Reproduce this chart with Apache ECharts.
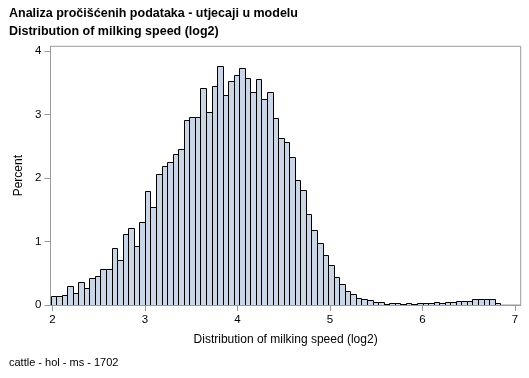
<!DOCTYPE html>
<html>
<head>
<meta charset="utf-8">
<script src="https://cdn.jsdelivr.net/npm/echarts@6/dist/echarts.min.js"></script>
<style>html,body{margin:0;padding:0;background:#fff;}#c{width:529px;height:378px;}</style>
</head>
<body>
<div id="c"></div>
<script>
var titleLine1 = 'Analiza pročišćenih podataka - utjecaji u modelu';
var titleLine2 = 'Distribution of milking speed (log2)';
var footnote = 'cattle - hol - ms - 1702';
var xAxisTitle = 'Distribution of milking speed (log2)';
var yAxisTitle = 'Percent';
var xTicks = [2, 3, 4, 5, 6, 7];
var yTicks = [0, 1, 2, 3, 4];
var binWidth = 0.06;
var binMidpoints = [2.01,2.07,2.13,2.19,2.25,2.31,2.37,2.43,2.49,2.55,2.61,2.67,2.73,2.79,2.85,2.91,2.97,3.03,3.09,3.15,3.21,3.27,3.33,3.39,3.45,3.51,3.57,3.63,3.69,3.75,3.81,3.87,3.93,3.99,4.05,4.11,4.17,4.23,4.29,4.35,4.41,4.47,4.53,4.59,4.65,4.71,4.77,4.83,4.89,4.95,5.01,5.07,5.13,5.19,5.25,5.31,5.37,5.43,5.49,5.55,5.61,5.67,5.73,5.79,5.85,5.91,5.97,6.03,6.09,6.15,6.21,6.27,6.33,6.39,6.45,6.51,6.57,6.63,6.69,6.75,6.81];
var percents = [0.147,0.147,0.162,0.304,0.194,0.367,0.262,0.43,0.461,0.571,0.571,0.90,0.713,1.127,1.216,0.933,1.31,1.80,1.546,2.065,2.19,2.254,2.38,2.463,2.914,2.961,2.961,3.417,3.04,3.449,3.763,3.307,3.527,3.622,3.732,3.574,3.354,3.559,3.244,3.354,2.946,2.631,2.568,2.332,1.971,1.813,1.436,1.184,0.985,0.791,0.634,0.445,0.335,0.228,0.178,0.115,0.10,0.084,0.052,0.052,0.021,0.037,0.037,0.021,0.037,0.021,0.037,0.037,0.037,0.052,0.037,0.052,0.052,0.068,0.068,0.068,0.089,0.089,0.089,0.089,0.037];

var data = binMidpoints.map(function (m, i) { return [m, percents[i]]; });
var FONT = '"Liberation Sans", Arial, sans-serif';
var AXIS_COLOR = '#9a9a9a';

var chart = echarts.init(document.getElementById('c'), null, {renderer: 'canvas'});
chart.setOption({
  animation: false,
  backgroundColor: '#ffffff',
  title: [
    {text: titleLine1, left: 9, top: 7, padding: 0,
     textStyle: {fontFamily: FONT, fontSize: 12.5, fontWeight: 'bold', color: '#000'}},
    {text: titleLine2, left: 9, top: 25, padding: 0,
     textStyle: {fontFamily: FONT, fontSize: 12.5, fontWeight: 'bold', color: '#000'}},
    {text: footnote, left: 9, top: 357, padding: 0,
     textStyle: {fontFamily: FONT, fontSize: 11, fontWeight: 'normal', color: '#000'}}
  ],
  grid: {left: 50.5, right: 8.3, top: 46.3, bottom: 73, show: true,
         borderColor: AXIS_COLOR, borderWidth: 1, backgroundColor: 'transparent'},
  xAxis: {
    type: 'value', min: 1.98, max: 7.061,
    name: xAxisTitle, nameLocation: 'middle', nameGap: 29,
    nameTextStyle: {fontFamily: FONT, fontSize: 12, color: '#000'},
    axisLine: {show: true, lineStyle: {color: AXIS_COLOR}},
    axisTick: {show: true, length: 6, lineStyle: {color: AXIS_COLOR}, customValues: xTicks},
    axisLabel: {fontFamily: FONT, fontSize: 11.5, color: '#000', margin: 9, customValues: xTicks,
                showMinLabel: true, showMaxLabel: true},
    splitLine: {show: false}
  },
  yAxis: {
    type: 'value', min: 0, max: 4.079,
    name: yAxisTitle, nameLocation: 'middle', nameGap: 26, nameRotate: 90,
    nameTextStyle: {fontFamily: FONT, fontSize: 12, color: '#000'},
    axisLine: {show: true, lineStyle: {color: AXIS_COLOR}},
    axisTick: {show: true, length: 6, lineStyle: {color: AXIS_COLOR}, customValues: yTicks},
    axisLabel: {fontFamily: FONT, fontSize: 11.5, color: '#000', margin: 9, customValues: yTicks,
                showMinLabel: true, showMaxLabel: true},
    splitLine: {show: false}
  },
  series: [{
    type: 'custom',
    clip: true,
    data: data,
    renderItem: function (params, api) {
      var mid = api.value(0), v = api.value(1);
      var p0 = api.coord([mid - binWidth / 2, v]);
      var p1 = api.coord([mid + binWidth / 2, 0]);
      var x0 = Math.round(p0[0]) + 0.5, x1 = Math.round(p1[0]) + 0.5;
      var y0 = Math.round(p0[1]) + 0.5, y1 = Math.round(p1[1]) + 0.5;
      return {
        type: 'rect',
        shape: {x: x0, y: y0, width: x1 - x0, height: y1 - y0},
        style: {fill: '#cad5e5', stroke: '#000000', lineWidth: 1}
      };
    }
  }]
});
</script>
</body>
</html>
